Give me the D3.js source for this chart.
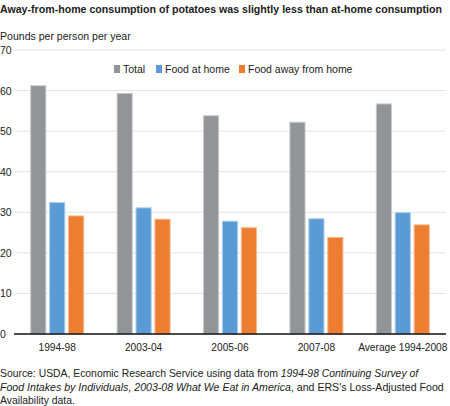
<!DOCTYPE html>
<html><head><meta charset="utf-8">
<script src="https://cdn.jsdelivr.net/npm/d3@7"></script>
<style>body{margin:0;background:#fff}svg{font-family:"Liberation Sans",Arial,sans-serif}</style>
</head><body><svg id="c" width="450" height="406"></svg>
<script>
const categories = ["1994-98","2003-04","2005-06","2007-08","Average 1994-2008"];
const seriesNames = ["Total","Food at home","Food away from home"];
const total = [61.2,59.3,53.8,52.2,56.7];
const atHome = [32.4,31.1,27.8,28.4,29.9];
const awayHome = [29.1,28.3,26.2,23.8,26.9];
const yTicks = [0,10,20,30,40,50,60,70];
const colors = ["#929497","#5b9bd5","#ed7d31"];
const strokes = ["#c9cacc","#a9cdee","#f7b88d"];

(function(){
const svg = d3.select("#c");
const pLeft = 14, pRight = 446, pTop = 50, pBottom = 334;
const x0 = d3.scaleBand().domain(categories).range([pLeft,pRight]).paddingInner(0).paddingOuter(0);
const x1 = d3.scaleBand().domain(seriesNames).range([x0.bandwidth()/2-26.5, x0.bandwidth()/2+26.5]).paddingInner(0.2);
const y = d3.scaleLinear().domain([0,70]).range([pBottom,pTop]);

function fit(sel, w){
  const n = sel.node();
  const fs = parseFloat(sel.attr("font-size"));
  const cur = n.getComputedTextLength();
  sel.attr("font-size", fs*w/cur);
  return sel;
}

fit(svg.append("text").attr("x",0).attr("y",13).attr("font-weight","bold").attr("font-size",12).attr("fill","#222")
  .text("Away-from-home consumption of potatoes was slightly less than at-home consumption"), 442);
fit(svg.append("text").attr("x",0).attr("y",40).attr("font-size",11).attr("fill","#222").text("Pounds per person per year"),131);

const g = svg.append("g");
g.selectAll("line.grid").data(yTicks.filter(d=>d>0)).join("line")
  .attr("x1",pLeft).attr("x2",pRight).attr("y1",d=>y(d)).attr("y2",d=>y(d))
  .attr("stroke","#e3e3e3").attr("stroke-width",1);
g.selectAll("text.yt").data(yTicks).join("text")
  .attr("x",0).attr("y",d=>y(d)+4).attr("font-size",10.5).attr("fill","#222").text(d=>d);

const data = categories.map((c,i)=>({c, vals:[total[i],atHome[i],awayHome[i]]}));
const grp = g.selectAll("g.grp").data(data).join("g").attr("transform",d=>`translate(${x0(d.c)},0)`);
grp.selectAll("rect").data(d=>d.vals.map((v,j)=>({v,j,s:seriesNames[j]}))).join("rect")
  .attr("x",d=>x1(d.s)).attr("width",x1.bandwidth())
  .attr("y",d=>y(d.v)).attr("height",d=>pBottom-y(d.v))
  .attr("fill",d=>colors[d.j]).attr("stroke",d=>strokes[d.j]).attr("stroke-width",1);

svg.append("line").attr("x1",pLeft).attr("x2",pRight).attr("y1",pBottom).attr("y2",pBottom)
  .attr("stroke","#111").attr("stroke-width",1.5);
svg.selectAll("text.xl").data(categories).join("text")
  .attr("x",d=>x0(d)+x0.bandwidth()/2).attr("y",351).attr("text-anchor","middle")
  .attr("font-size",10.2).attr("fill","#222").text(d=>d);

const legX = [114,156,239];
seriesNames.forEach((s,i)=>{
  svg.append("rect").attr("x",legX[i]).attr("y",65).attr("width",6).attr("height",8).attr("fill",colors[i]);
  svg.append("text").attr("x",legX[i]+9).attr("y",73).attr("font-size",10.5).attr("fill","#222").text(s);
});

const src = svg.append("g").attr("fill","#222");
const l1 = src.append("text").attr("x",0).attr("y",377).attr("font-size",11);
l1.append("tspan").text("Source: USDA, Economic Research Service using data from ");
l1.append("tspan").attr("font-style","italic").text("1994-98 Continuing Survey of");
fit(l1,419);
const l2 = src.append("text").attr("x",0).attr("y",391).attr("font-size",11);
l2.append("tspan").attr("font-style","italic").text("Food Intakes by Individuals, 2003-08 What We Eat in America");
l2.append("tspan").text(", and ERS's Loss-Adjusted Food");
fit(l2,444);
src.append("text").attr("x",0).attr("y",404).attr("font-size",l1.attr("font-size")).text("Availability data.");
})();
</script></body></html>
